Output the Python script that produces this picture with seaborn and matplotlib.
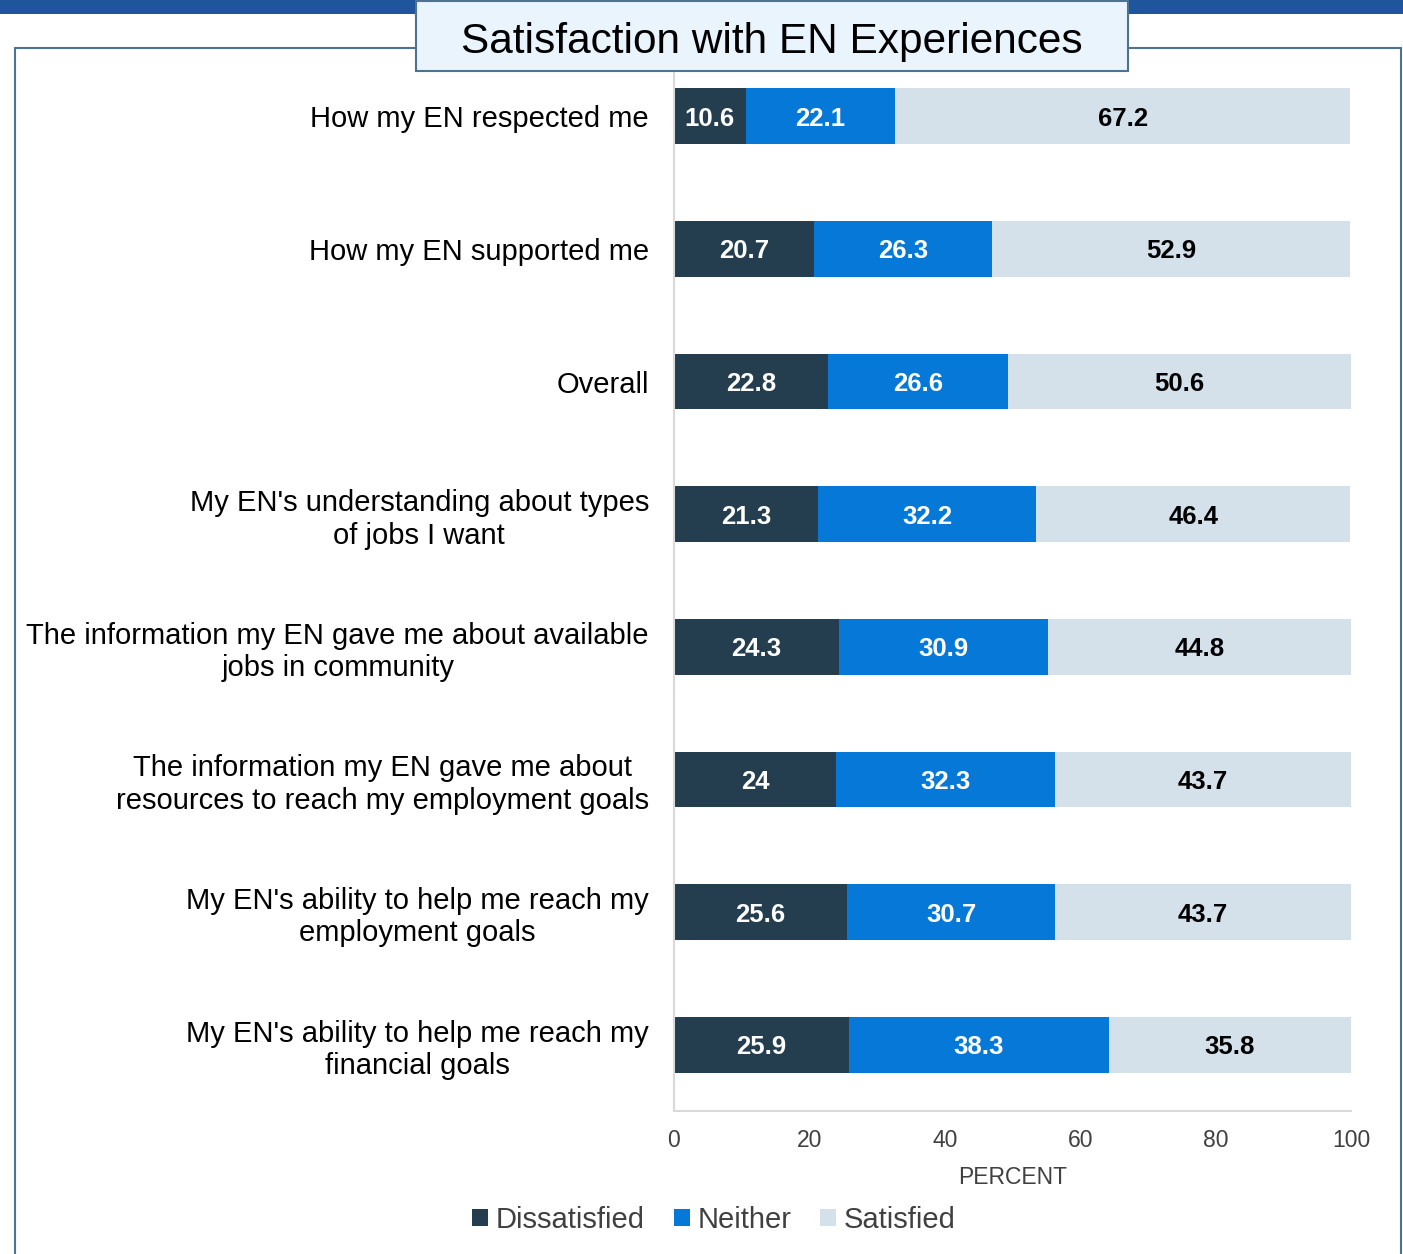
import numpy as np
import pandas as pd
import matplotlib
matplotlib.use('Agg')
import matplotlib.pyplot as plt
from matplotlib.patches import Rectangle, Patch
from matplotlib.lines import Line2D
import seaborn as sns

# Data
CATEGORIES = [
    "How my EN respected me",
    "How my EN supported me",
    "Overall",
    "My EN's understanding about types\nof jobs I want",
    "The information my EN gave me about available\njobs in community",
    "The information my EN gave me about\nresources to reach my employment goals",
    "My EN's ability to help me reach my\nemployment goals",
    "My EN's ability to help me reach my\nfinancial goals",
]
DISSATISFIED = [10.6, 20.7, 22.8, 21.3, 24.3, 24.0, 25.6, 25.9]
NEITHER = [22.1, 26.3, 26.6, 32.2, 30.9, 32.3, 30.7, 38.3]
SATISFIED = [67.2, 52.9, 50.6, 46.4, 44.8, 43.7, 43.7, 35.8]
SERIES = ['Dissatisfied', 'Neither', 'Satisfied']
COLORS = ['#243e50', '#0679d8', '#d4e1ea']
TEXT_COLORS = ['white', 'white', 'black']
XTICKS = [0, 20, 40, 60, 80, 100]

W, H = 1403, 1254

sns.set_theme(style='white')
plt.rcParams['font.family'] = ['Liberation Sans', 'DejaVu Sans']

df = pd.DataFrame({'cat': CATEGORIES, 'Dissatisfied': DISSATISFIED,
                   'Neither': NEITHER, 'Satisfied': SATISFIED})
df['c1'] = df['Dissatisfied']
df['c2'] = df['c1'] + df['Neither']
df['c3'] = df['c2'] + df['Satisfied']

fig = plt.figure(figsize=(W / 100, H / 100), dpi=100)


def fx(px):
    return px / W


def fy(py):
    return 1 - py / H


# decorations: top band, frame, title box
fig.add_artist(Rectangle((0, fy(14)), 1, 14 / H, transform=fig.transFigure,
                         facecolor='#1f559c', edgecolor='none', zorder=0))
frame_col = '#4d7393'
fig.add_artist(Line2D([fx(15), fx(15)], [0, fy(48)], transform=fig.transFigure,
                      color=frame_col, lw=1.5))
fig.add_artist(Line2D([fx(15), fx(1401)], [fy(48), fy(48)], transform=fig.transFigure,
                      color=frame_col, lw=1.5))
fig.add_artist(Line2D([fx(1401), fx(1401)], [0, fy(48)], transform=fig.transFigure,
                      color=frame_col, lw=1.5))

ax = fig.add_axes([fx(674), fy(1111), fx(1351) - fx(674), fy(50) - fy(1111)])

# stacked bars drawn back to front
for col, color in zip(['c3', 'c2', 'c1'], COLORS[::-1]):
    sns.barplot(data=df, x=col, y='cat', orient='h', color=color, width=0.42,
                saturation=1, ax=ax, edgecolor='none')

for i, row in df.iterrows():
    left = 0
    for s, tc in zip(SERIES, TEXT_COLORS):
        v = row[s]
        ax.text(left + v / 2, i, f'{v:g}', ha='center', va='center_baseline',
                color=tc, fontsize=18.5, fontweight='bold')
        left += v

ax.set_xlim(0, 100)
ax.set_ylim(7.5, -0.5)
ax.set_xticks(XTICKS)
ax.set_xticklabels([str(t) for t in XTICKS], fontsize=16.5, color='#404040')
ax.set_yticks(range(len(CATEGORIES)))
ax.set_yticklabels(CATEGORIES, fontsize=21, color='black', ha='right',
                   multialignment='center', linespacing=1.2)
ax.tick_params(axis='x', length=0, pad=13)
ax.tick_params(axis='y', length=0, pad=18)
ax.set_xlabel('PERCENT', fontsize=16.5, color='#404040', labelpad=10)
ax.set_ylabel('')
for side in ['top', 'right']:
    ax.spines[side].set_visible(False)
for side in ['left', 'bottom']:
    ax.spines[side].set_color('#d9d9d9')
    ax.spines[side].set_linewidth(1.5)
ax.set_facecolor('none')

handles = [Patch(facecolor=c, edgecolor='none', label=s) for s, c in zip(SERIES, COLORS)]
fig.legend(handles=handles, loc='center', bbox_to_anchor=(fx(714), fy(1220)), ncol=3,
           frameon=False, fontsize=21, handlelength=0.55, handleheight=0.55,
           handletextpad=0.25, columnspacing=1.0, labelcolor='#404040')

# title box (drawn over the band)
fig.add_artist(Rectangle((fx(416), fy(71)), fx(1128) - fx(416), 70 / H,
                         transform=fig.transFigure, facecolor='#eaf4fd',
                         edgecolor=frame_col, lw=1.5, zorder=5))
fig.text(fx(772), fy(37), 'Satisfaction with EN Experiences', ha='center',
         va='center_baseline', fontsize=30.5, color='black', zorder=6)

fig.savefig('out.png', dpi=100)
